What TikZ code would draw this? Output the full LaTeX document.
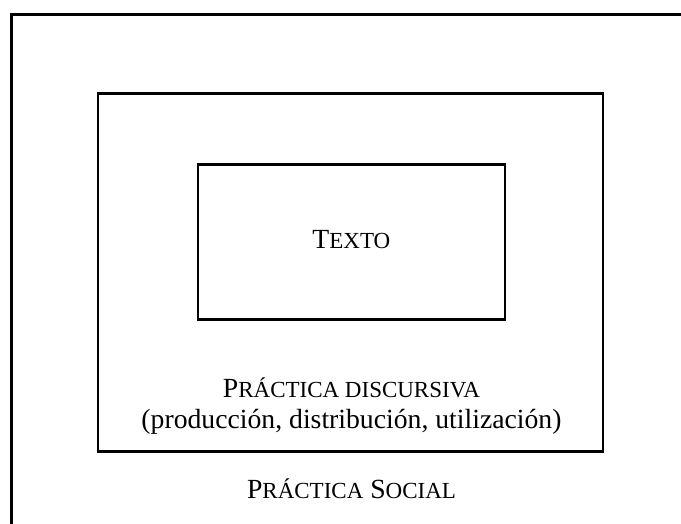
\documentclass[tikz,border=0pt]{standalone}
\usepackage{fontspec}
\setmainfont{Liberation Serif}
\usetikzlibrary{positioning}
\newcommand{\fakesc}[1]{{\fontsize{23}{26}\selectfont #1}}
\tikzset{
  caja/.style={draw, line width=2.4pt, inner sep=0pt},
  rotulo/.style={font=\fontsize{27.7}{31}\selectfont, anchor=base, inner sep=0pt}
}
\begin{document}
\begin{tikzpicture}[x=1pt, y=-1pt]
  \useasboundingbox (0,0) rectangle (681,524);
  % marco exterior (práctica social), cortado por el borde
  \coordinate (abajo) at (11.5,530);
  \coordinate (esquina) at (11.5,15);
  \coordinate (derecha) at (690,15);
  \draw[line width=3pt] (abajo) -- (esquina) -- (derecha);
  % cajas
  \node[caja, minimum width=505pt, minimum height=357.6pt] (discursiva) at (350.5,272.5) {};
  \node[caja, minimum width=306.7pt, minimum height=154.8pt] (texto) at (351.35,242.1) {};
  \node[rotulo] (lbltexto) at (351.35,249) {T\fakesc{EXTO}};
  \node[rotulo] (lbldisc) at (351.5,397) {P\fakesc{RÁCTICA DISCURSIVA}};
  \node[rotulo] (lbluso) at (351.5,428) {(producción, distribución, utilización)};
  \node[rotulo] (lblsocial) at (351.5,498) {P\fakesc{RÁCTICA} S\fakesc{OCIAL}};
\end{tikzpicture}
\end{document}
